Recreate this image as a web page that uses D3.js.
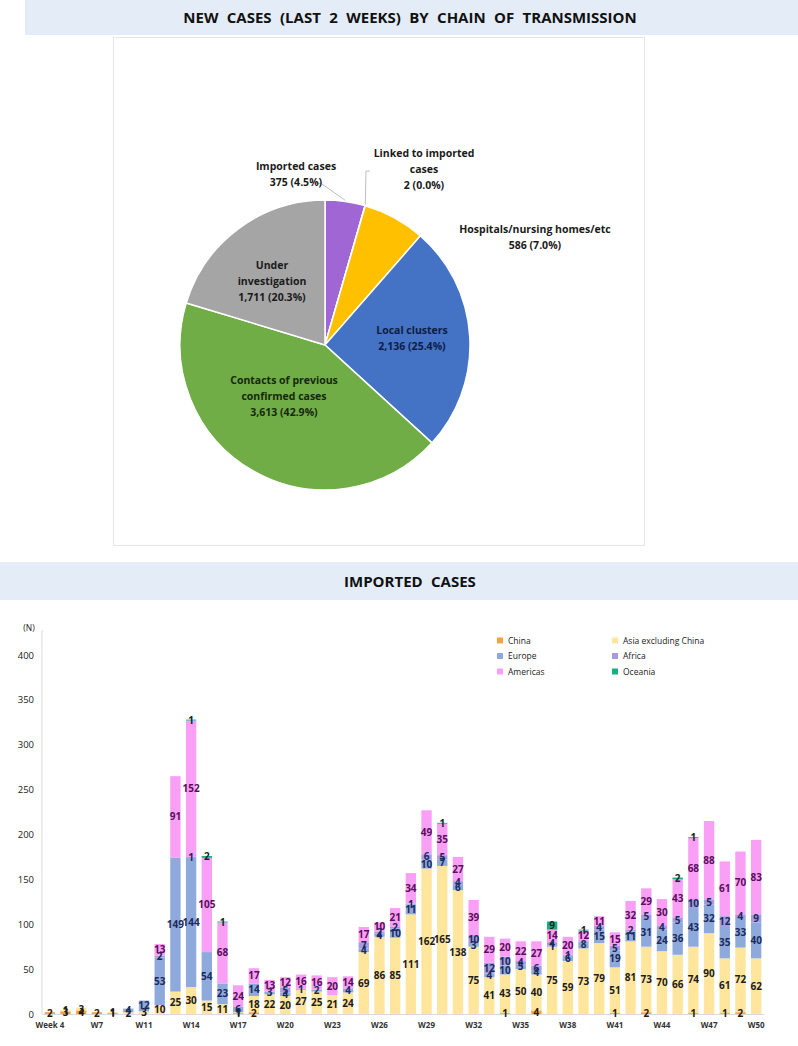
<!DOCTYPE html>
<html>
<head>
<meta charset="utf-8">
<script src="https://cdn.jsdelivr.net/npm/d3@7"></script>
<style>
  body { margin: 0; background: #fff; }
  svg { display: block; font-family: "Open Sans", "Noto Sans", sans-serif; }
</style>
</head>
<body>
<div id="chart"></div>
<script>
// pie: chain of transmission (last 2 weeks)
const pieNames = ["Imported cases", "Linked to imported cases", "Hospitals/nursing homes/etc",
  "Local clusters", "Contacts of previous confirmed cases", "Under investigation"];
const pieValues = [375, 2, 586, 2136, 3613, 1711];
const pieColors = ["#a066d3", "#ed7d31", "#ffc000", "#4472c4", "#70ad47", "#a5a5a5"];

// bars: imported cases by week
const weeks = ["Week 4", "W5", "W6", "W7", "W8", "W9", "W11", "W12", "W13", "W14",
  "W15", "W16", "W17", "W18", "W19", "W20", "W21", "W22", "W23", "W24",
  "W25", "W26", "W27", "W28", "W29", "W30", "W31", "W32", "W33", "W34",
  "W35", "W36", "W37", "W38", "W39", "W40", "W41", "W42", "W43", "W44",
  "W45", "W46", "W47", "W48", "W49", "W50"];
const tickLabels = ["Week 4", "W7", "W11", "W14", "W17", "W20", "W23", "W26", "W29",
  "W32", "W35", "W38", "W41", "W44", "W47", "W50"];
const regions = ["China", "Asia excluding China", "Europe", "Africa", "Americas", "Oceania"];

const china    = [2,3,4,2,1,0,0,0,0,0, 0,0,1,2,0,0,0,0,0,0, 0,0,0,0,0,0,0,0,0,1, 0,4,0,0,0,0,1,0,2,0, 0,1,0,1,2,0];
const asia     = [0,1,3,0,1,2,3,10,25,30, 15,11,1,18,22,20,27,25,21,24, 69,86,85,111,162,165,138,75,41,43, 50,40,75,59,73,79,51,81,73,70, 66,74,90,61,72,62];
const europe   = [0,0,0,0,0,4,12,53,149,144, 54,23,6,14,3,4,1,2,0,4, 4,4,10,11,10,7,6,3,4,10, 5,4,1,6,8,15,19,11,31,24, 36,43,32,35,33,40];
const africa   = [0,0,0,0,0,0,0,2,0,1, 0,0,0,0,0,5,0,0,0,0, 7,2,2,1,6,5,4,10,12,10, 4,6,4,1,0,4,5,2,5,4, 5,10,5,12,4,9];
const americas = [0,0,0,0,0,0,0,13,91,152, 105,68,24,17,13,12,16,16,20,14, 17,10,21,34,49,35,27,39,29,20, 22,27,14,20,12,11,15,32,29,30, 43,68,88,61,70,83];
const oceania  = [0,0,0,0,0,0,0,0,0,1, 2,1,0,0,0,0,0,0,0,0, 0,0,0,0,0,1,0,0,0,0, 0,0,9,0,1,0,0,0,0,0, 2,1,0,0,0,0];

const yTicks = [0, 50, 100, 150, 200, 250, 300, 350, 400];

const barColors = ["#f4a247", "#ffe69c", "#8eaadc", "#a49be0", "#f99ff6", "#17ae80"];
const labelColors = ["#2b1a00", "#1c1c1c", "#1c2a5e", "#1c2a5e", "#5a0d5c", "#0d2a20"];

const svg = d3.select("#chart").append("svg")
  .attr("width", 798)
  .attr("height", 1046);

// ---------- header bands ----------
function band(x, y, w, h, text, ty) {
  svg.append("rect").attr("x", x).attr("y", y).attr("width", w).attr("height", h)
    .attr("fill", "#e4ecf7");
  svg.append("text").attr("x", 410).attr("y", ty)
    .attr("text-anchor", "middle")
    .attr("font-size", 15).attr("font-weight", 700).attr("fill", "#111")
    .attr("word-spacing", 4.5)
    .text(text);
}
band(25, 0, 773, 35, "NEW CASES (LAST 2 WEEKS) BY CHAIN OF TRANSMISSION", 23);
band(0, 562, 798, 38, "IMPORTED CASES", 587);

// ---------- pie ----------
svg.append("rect").attr("x", 113.5).attr("y", 37.5).attr("width", 531).attr("height", 508)
  .attr("fill", "#fff").attr("stroke", "#e6e6e6");

const cx = 325, cy = 345, r = 145;
const pieG = svg.append("g").attr("transform", `translate(${cx},${cy})`);
const pie = d3.pie().sort(null).value(d => d)(pieValues);
const arc = d3.arc().innerRadius(0).outerRadius(r);

pieG.selectAll("path").data(pie).join("path")
  .attr("d", arc)
  .attr("fill", (d, i) => pieColors[i])
  .attr("stroke", "#fff")
  .attr("stroke-width", 1.5);

// leader lines for the two small slices
const edge = d3.arc().innerRadius(r + 1).outerRadius(r + 1);
const impPt = edge.centroid(pie[0]);
const linkPt = [Math.sin(pie[1].startAngle) * (r + 1), -Math.cos(pie[1].startAngle) * (r + 1)];
pieG.append("polyline")
  .attr("points", [[-9, -162], [-3, -161], impPt].join(" "))
  .attr("fill", "none").attr("stroke", "#bfbfbf");
pieG.append("polyline")
  .attr("points", [[45, -174], [41, -174], linkPt].join(" "))
  .attr("fill", "none").attr("stroke", "#bfbfbf");

const pieLabels = [
  { lines: ["Imported cases", "375 (4.5%)"], x: 296, y: 170, c: "#1a1a1a" },
  { lines: ["Linked to imported", "cases", "2 (0.0%)"], x: 424, y: 157, c: "#1a1a1a" },
  { lines: ["Hospitals/nursing homes/etc", "586 (7.0%)"], x: 535, y: 233, c: "#1a1a1a" },
  { lines: ["Local clusters", "2,136 (25.4%)"], x: 412, y: 334, c: "#0e1d45" },
  { lines: ["Contacts of previous", "confirmed cases", "3,613 (42.9%)"], x: 284, y: 384, c: "#15290a" },
  { lines: ["Under", "investigation", "1,711 (20.3%)"], x: 272, y: 269, c: "#1a1a1a" }
];
pieLabels.forEach((p, i) => {
  const t = svg.append("text")
    .attr("x", p.x).attr("y", p.y)
    .attr("text-anchor", "middle")
    .attr("font-size", 10.5).attr("font-weight", 700)
    .attr("fill", p.c)
    .attr("aria-label", pieNames[i]);
  p.lines.forEach((l, j) => {
    t.append("tspan").attr("x", p.x).attr("dy", j === 0 ? 0 : 16).text(l);
  });
});

// ---------- stacked bars ----------
const table = weeks.map((w, i) => ({
  week: w,
  "China": china[i],
  "Asia excluding China": asia[i],
  "Europe": europe[i],
  "Africa": africa[i],
  "Americas": americas[i],
  "Oceania": oceania[i]
}));
const series = d3.stack().keys(regions)(table);

const x = d3.scaleBand().domain(weeks).range([42, 764]).paddingInner(0.34).paddingOuter(0.17);
const y = d3.scaleLinear().domain([0, 400]).range([1014, 655]);

// y axis
const yAxis = svg.append("g")
  .attr("transform", "translate(42,0)")
  .call(d3.axisLeft(y).tickValues(yTicks).tickSize(0).tickPadding(8));
yAxis.select(".domain").attr("stroke", "#d9d9d9").attr("d", "M0,630V1014");
yAxis.selectAll("text").attr("font-size", 9.5).attr("fill", "#222")
  .attr("font-family", "'Open Sans', sans-serif");

svg.append("text").attr("x", 29).attr("y", 631).attr("text-anchor", "middle")
  .attr("font-size", 8.5).attr("fill", "#222").text("(N)");

// bars
svg.append("g").selectAll("g").data(series).join("g")
  .attr("fill", (d, i) => barColors[i])
  .selectAll("rect").data(d => d).join("rect")
  .attr("x", d => x(d.data.week))
  .attr("y", d => y(d[1]))
  .attr("width", x.bandwidth())
  .attr("height", d => y(d[0]) - y(d[1]));

// x axis
const xAxis = svg.append("g")
  .attr("transform", "translate(0,1014)")
  .call(d3.axisBottom(x).tickValues(tickLabels).tickSize(0).tickPadding(8));
xAxis.select(".domain").attr("stroke", "#d9d9d9");
xAxis.selectAll("text").attr("font-size", 8).attr("font-weight", 700).attr("fill", "#333")
  .attr("font-family", "'Open Sans', sans-serif");

// value labels
svg.append("g").selectAll("g").data(series).join("g")
  .attr("fill", (d, i) => labelColors[i])
  .selectAll("text").data(d => d.filter(v => v[1] - v[0] > 0)).join("text")
  .attr("x", d => x(d.data.week) + x.bandwidth() / 2)
  .attr("y", d => (y(d[0]) + y(d[1])) / 2 + 3.5)
  .attr("text-anchor", "middle")
  .attr("font-size", 10).attr("font-weight", 700)
  .text(d => d[1] - d[0]);

// legend
const legend = svg.append("g").selectAll("g").data(regions).join("g")
  .attr("transform", (d, i) => `translate(${i % 2 === 0 ? 497 : 612},${641 + Math.floor(i / 2) * 15.5})`);
legend.append("rect").attr("x", 0).attr("y", -3.5).attr("width", 6).attr("height", 6)
  .attr("fill", (d, i) => barColors[i]);
legend.append("text").attr("x", 11).attr("y", 2.5)
  .attr("font-size", 8.5).attr("fill", "#222").text(d => d);
</script>
</body>
</html>
